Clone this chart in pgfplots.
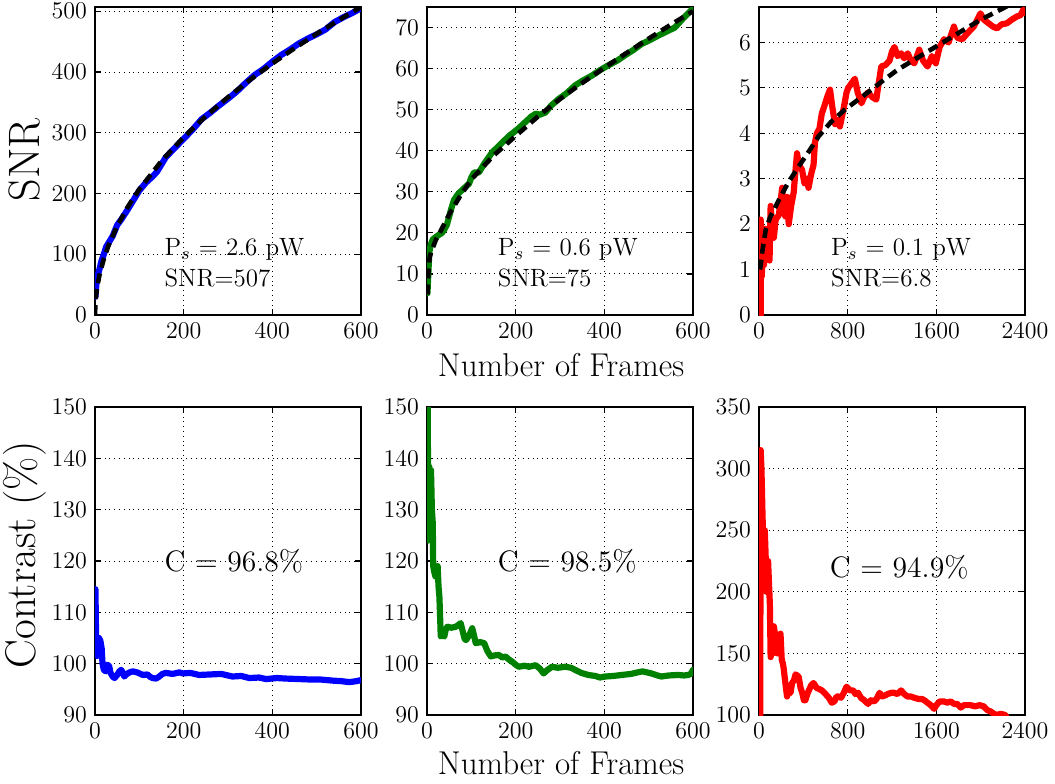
\documentclass[border=0pt]{standalone}
\usepackage{pgfplots}
\pgfplotsset{compat=1.18}

\definecolor{mblue}{RGB}{0,0,255}
\definecolor{mgreen}{RGB}{0,128,0}
\definecolor{mred}{RGB}{255,0,0}

\pgfplotsset{
  panel/.style={
    scale only axis,
    width=133pt, height=154pt,
    axis line style={line width=0.8pt},
    grid=major,
    major grid style={black, dotted, line width=0.5pt},
    tick align=inside, xtick pos=both, ytick pos=both,
    major tick length=3pt,
    tick style={black, line width=0.6pt},
    tick label style={font=\fontsize{11.5}{13}\selectfont},
    yticklabel style={xshift=-0.5pt},
    xticklabel style={yshift=-0.5pt},
    scaled ticks=false,
    /pgf/number format/1000 sep={},
  },
  dataline/.style={line width=3.1pt, line join=round, line cap=round},
  fitline/.style={black, line width=2.3pt, dash pattern=on 5pt off 3pt},
}

\begin{document}
\begin{tikzpicture}
\useasboundingbox (0pt,0pt) rectangle (527.5pt,391.5pt);

% ---- top left: SNR, 2.6 pW
\begin{axis}[panel, at={(47.5pt,234pt)}, anchor=south west,
  xmin=0, xmax=600, ymin=0, ymax=507,
  xtick={0,200,400,600}, ytick={0,100,200,300,400,500}]
\addplot[mblue, dataline] coordinates {
(1,30) (3,50) (6,65) (10,75) (15,90) (20,100) (25,112) (30,118) (40,130)
(50,148) (60,158) (75,175) (90,193) (100,205) (115,218) (130,228) (140,236)
(160,260) (180,275) (200,290) (220,305) (240,322) (260,333) (280,345)
(300,356) (320,368) (340,382) (360,395) (380,405) (400,417) (420,428)
(440,437) (460,447) (480,455) (500,462) (520,470) (540,482) (560,490)
(580,497) (600,505)};
\addplot[fitline] coordinates {
(0,0) (1,20.7) (2,29.3) (5,46.3) (10,65.5) (20,92.6) (30,113.4) (50,146.4)
(75,179.3) (100,207) (150,253.5) (200,292.7) (250,327.3) (300,358.5)
(350,387.3) (400,414) (450,439.1) (500,462.9) (550,485.5) (600,507)};
\node[anchor=west, align=left, font=\fontsize{12.5}{15.5}\selectfont]
  at (rel axis cs:0.235,0.17) {P$_s$ = 2.6 pW\\SNR=507};
\end{axis}

% ---- top middle: SNR, 0.6 pW
\begin{axis}[panel, at={(213.5pt,234pt)}, anchor=south west,
  xmin=0, xmax=600, ymin=0, ymax=75,
  xtick={0,200,400,600}, ytick={0,10,20,30,40,50,60,70}]
\addplot[mgreen, dataline] coordinates {
(1,5.3) (3,10) (5,15) (8,17) (13,18.4) (20,19) (28,19.6) (34,20) (39,20.8)
(45,22) (50,24) (55,26) (61,28) (67,29) (73,29.8) (85,31) (95,32) (100,33.5)
(106,34.7) (117,34.7) (130,37) (147,39.6) (165,41.5) (185,43.6) (205,45.3)
(222,47) (235,48.3) (245,49) (255,48.8) (267,49.3) (280,51) (297,52.6)
(315,54) (334,55.9) (350,57) (372,58.3) (390,59.6) (409,60.8) (430,62)
(446,63.2) (465,64.5) (484,66) (500,66.8) (521,68) (540,69) (559,70)
(580,72.5) (600,74.6)};
\addplot[fitline] coordinates {
(1,5) (3,10) (6,14) (10,15.5) (20,18.3) (30,20.3) (50,24.5) (75,29)
(100,33) (150,38.8) (200,43.6) (250,48.3) (300,52.6) (350,56.5) (400,60.2)
(450,63.8) (500,67.3) (550,70.7) (600,74)};
\node[anchor=west, align=left, font=\fontsize{12.5}{15.5}\selectfont]
  at (rel axis cs:0.24,0.17) {P$_s$ = 0.6 pW\\SNR=75};
\end{axis}

% ---- top right: SNR, 0.1 pW
\begin{axis}[panel, at={(379.5pt,234pt)}, anchor=south west,
  xmin=0, xmax=2400, ymin=0, ymax=6.78,
  xtick={0,800,1600,2400}, ytick={0,1,2,3,4,5,6}]
\addplot[mred, dataline] coordinates {
(15,0) (15,2.1) (20,1.2) (25,0.85) (35,1.6) (45,1.1) (55,1.9) (65,1.3)
(80,1.8) (95,1.2) (105,2.4) (120,1.9) (134,1.7) (150,2.1) (179,2.2)
(195,2.5) (209,2.8) (222,2.3) (238,2.17) (255,2.6) (268,2.0) (290,2.4)
(313,2.7) (330,3.2) (343,3.56) (360,3.3) (388,3.2) (410,2.9) (430,3.0)
(447,2.8) (470,3.1) (492,3.3) (505,3.8) (522,4.0) (545,4.1) (567,4.44)
(590,4.6) (615,4.8) (641,4.96) (660,4.6) (686,4.2) (710,4.3) (730,4.15)
(760,4.5) (790,4.9) (805,5.0) (835,5.1) (865,5.2) (890,4.9) (924,4.66)
(950,4.8) (984,4.9) (1020,4.8) (1058,4.74) (1080,5.1) (1103,5.47)
(1140,5.5) (1178,5.6) (1200,5.8) (1222,5.9) (1250,5.7) (1282,5.76)
(1310,5.65) (1342,5.76) (1370,5.6) (1401,5.54) (1425,5.7) (1446,5.84)
(1480,5.6) (1521,5.47) (1560,5.7) (1595,5.54) (1630,5.9) (1670,6.07)
(1710,6.0) (1759,6.35) (1790,6.1) (1834,6.07) (1880,6.2) (1938,6.35)
(1970,6.5) (1998,6.64) (2030,6.5) (2072,6.42) (2110,6.35) (2147,6.31)
(2190,6.4) (2236,6.42) (2280,6.5) (2326,6.57) (2360,6.6) (2385,6.72)
(2400,6.65)};
\addplot[fitline] coordinates {
(10,1.0) (30,1.4) (60,1.87) (100,2.15) (179,2.53) (260,2.9) (358,3.27)
(450,3.6) (537,3.93) (650,4.25) (775,4.52) (900,4.75) (1014,4.96)
(1130,5.18) (1252,5.4) (1400,5.62) (1550,5.84) (1700,6.06) (1849,6.28)
(2000,6.5) (2177,6.72) (2400,7.0)};
\node[anchor=west, align=left, font=\fontsize{12.5}{15.5}\selectfont]
  at (rel axis cs:0.245,0.17) {P$_s$ = 0.1 pW\\SNR=6.8};
\end{axis}

% ---- bottom left: contrast, 2.6 pW
\begin{axis}[panel, at={(47.5pt,34pt)}, anchor=south west,
  xmin=0, xmax=600, ymin=90, ymax=150,
  xtick={0,200,400,600}, ytick={90,100,110,120,130,140,150}]
\addplot[mblue, dataline] coordinates {
(1,114.5) (2,108) (3,102) (5,101.5) (7,103) (9,105) (12,104.5) (15,103)
(17,100) (20,98.8) (24,98.5) (28,99.8) (32,99.5) (35,98.2) (40,97.5)
(44,97.2) (50,97.8) (55,98.5) (59,98.8) (63,98.2) (66,97.5) (72,98)
(78,98.3) (85,98.5) (95,98.3) (108,97.8) (118,97.9) (125,97.4) (130,97.2)
(138,97.1) (145,97.5) (152,98) (160,98.2) (175,98) (190,98.3) (198,98.1)
(215,98.2) (235,97.8) (260,97.9) (285,98) (310,97.5) (330,97.6) (348,97.2)
(370,97.3) (386,97.0) (410,97.2) (430,97.1) (461,97.0) (490,96.9)
(510,96.9) (536,96.7) (555,96.6) (574,96.4) (590,96.6) (600,96.8)};
\node[anchor=west, font=\fontsize{14.8}{17}\selectfont]
  at (rel axis cs:0.235,0.5) {C = 96.8\%};
\end{axis}

% ---- bottom middle: contrast, 0.6 pW
\begin{axis}[panel, at={(213.5pt,34pt)}, anchor=south west,
  xmin=0, xmax=600, ymin=90, ymax=150,
  xtick={0,200,400,600}, ytick={90,100,110,120,130,140,150}]
\addplot[mgreen, dataline] coordinates {
(0,160) (1.5,150) (2.5,135) (3,124) (4,128) (5,138.4) (7,137) (9,137.7)
(10,134) (11,130) (13,127.4) (14,119) (16,118) (19,117) (22,118.5) (24,119)
(26,115) (28,113) (30,108) (31,105.3) (35,105.5) (39,105.3) (42,106.5)
(46,107.2) (55,107) (65,107.2) (70,107.5) (76,107.9) (80,106.5) (85,104.8)
(88,104.6) (95,105.5) (102,106.9) (106,105.5) (110,104) (120,104.2)
(129,104) (136,102.5) (144,101.4) (152,101.6) (162,101.7) (170,101.2)
(177,101.4) (185,100.8) (192,100.4) (200,99.8) (207,99.4) (220,99.6)
(230,99.4) (245,99.7) (255,99) (263,98.1) (272,98.8) (282,99.4) (295,99.2)
(312,99.4) (325,99.2) (334,98.8) (348,98.2) (364,97.8) (380,97.6) (390,97.3)
(402,97.5) (420,97.6) (439,97.8) (460,98) (475,98.3) (486,98.5) (506,98.1)
(520,97.7) (529,97.5) (545,97.7) (566,97.8) (580,97.7) (589,97.8) (595,98)
(600,98.8)};
\node[anchor=west, font=\fontsize{14.8}{17}\selectfont]
  at (rel axis cs:0.24,0.5) {C = 98.5\%};
\end{axis}

% ---- bottom right: contrast, 0.1 pW
\begin{axis}[panel, at={(379.5pt,34pt)}, anchor=south west,
  xmin=0, xmax=2400, ymin=100, ymax=350,
  xtick={0,800,1600,2400}, ytick={100,150,200,250,300,350}]
\addplot[mred, dataline] coordinates {
(2,40) (10,40) (15,315) (22,300) (30,269) (38,240) (45,210) (52,250)
(60,229) (68,200) (75,202) (82,225) (90,207) (98,190) (105,147) (115,160)
(125,150) (134,172) (145,165) (155,160) (164,150) (175,155) (185,160)
(194,166) (205,145) (215,142) (224,137) (235,128) (253,115) (270,120)
(285,118) (298,126) (315,128) (330,133) (345,132) (358,131) (375,122)
(390,118) (405,112) (418,112) (440,118) (470,124) (492,126) (520,122)
(545,121) (567,120) (600,117) (630,114) (656,110) (680,111) (700,115)
(716,115) (740,114) (765,118) (790,123) (820,120) (850,120) (870,117)
(894,118) (920,114) (950,112) (984,109) (1010,112) (1040,111) (1060,113)
(1088,118) (1110,115) (1140,116) (1160,117) (1193,118) (1220,118)
(1250,117) (1282,120) (1310,117) (1340,115) (1372,115) (1400,114)
(1440,113) (1470,113) (1491,112) (1520,110) (1550,108) (1580,105)
(1600,108) (1630,111) (1670,111) (1700,110) (1730,111) (1760,109)
(1789,109) (1820,106) (1850,108) (1880,108) (1908,108) (1950,107)
(1990,108) (2028,107) (2060,104) (2087,103) (2120,101) (2147,100)
(2180,101) (2221,100) (2240,97)};
\node[anchor=west, font=\fontsize{14.8}{17}\selectfont]
  at (rel axis cs:0.24,0.48) {C = 94.9\%};
\end{axis}

% ---- shared labels
\node[rotate=90, font=\fontsize{22}{26}\selectfont] at (12pt,311.5pt) {SNR};
\node[rotate=90, font=\fontsize{21.5}{25}\selectfont] at (12.5pt,114pt) {Contrast (\%)};
\node[font=\fontsize{16.5}{19}\selectfont] at (280.5pt,209pt) {Number of Frames};
\node[font=\fontsize{16.5}{19}\selectfont] at (280.5pt,10pt) {Number of Frames};
\end{tikzpicture}
\end{document}
